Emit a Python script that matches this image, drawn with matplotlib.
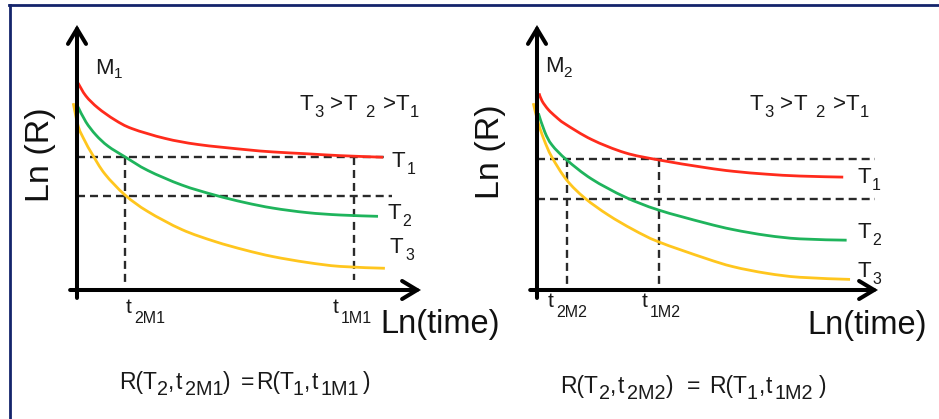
import matplotlib

matplotlib.use("Agg")
import matplotlib.pyplot as plt
from matplotlib.lines import Line2D
from matplotlib.patches import ArrowStyle, FancyArrowPatch, PathPatch
from matplotlib.path import Path

plt.rcParams["font.family"] = ["Liberation Sans", "DejaVu Sans"]

W, H = 939, 419

# Ln(R) vs Ln(time) isotherms for material M1 (x: Ln(time), y: Ln(R), arbitrary units)
m1_t1_x = [0.03, 0.26, 0.61, 1.10, 1.60, 2.56, 3.52, 4.88, 5.70, 6.69, 7.65, 8.90]
m1_t1_y = [7.81, 7.32, 6.87, 6.42, 6.09, 5.72, 5.49, 5.30, 5.21, 5.14, 5.07, 5.01]
m1_t2_x = [0.03, 0.26, 0.55, 0.90, 1.40, 2.06, 3.05, 4.01, 4.88, 5.70, 6.69, 7.65, 8.75]
m1_t2_y = [6.91, 6.34, 5.85, 5.43, 5.02, 4.51, 3.96, 3.58, 3.30, 3.09, 2.92, 2.83, 2.78]
m1_t3_x = [-0.11, 0.04, 0.23, 0.44, 0.81, 1.40, 2.06, 3.05, 4.01, 4.88, 5.70,
           6.69, 7.65, 8.95]
m1_t3_y = [7.05, 6.16, 5.62, 5.13, 4.38, 3.58, 2.96, 2.28, 1.83, 1.51, 1.26,
           1.04, 0.89, 0.82]
m1_levels = [5.03, 3.55]
m1_times = [1.40, 8.05]

# material M2
m2_t1_x = [0.06, 0.15, 0.33, 0.56, 0.82, 1.60, 2.58, 3.56, 4.93, 5.75, 6.74,
           7.71, 8.98]
m2_t1_y = [7.42, 7.13, 6.81, 6.53, 6.27, 5.68, 5.18, 4.91, 4.62, 4.48, 4.37,
           4.30, 4.26]
m2_t2_x = [0.04, 0.23, 0.44, 0.87, 1.60, 2.58, 3.56, 4.93, 5.75, 6.74, 7.71, 9.08]
m2_t2_y = [6.67, 5.96, 5.47, 4.91, 4.19, 3.51, 3.02, 2.53, 2.28, 2.06, 1.93, 1.88]
m2_t3_x = [-0.11, 0.04, 0.21, 0.43, 0.87, 1.41, 2.09, 2.82, 3.56, 4.93, 5.75,
           6.74, 7.71, 9.18]
m2_t3_y = [7.05, 6.29, 5.66, 5.03, 4.15, 3.46, 2.83, 2.28, 1.82, 1.20, 0.88,
           0.63, 0.48, 0.40]
m2_levels = [4.94, 3.42]
m2_times = [0.87, 3.58]

RED = "#ff2b1c"
GREEN = "#1fb45c"
YELLOW = "#ffc61e"
DASH = "#2a2a2a"
INK = "#1a1a1a"
FRAME = "#14246b"

fig = plt.figure(figsize=(W / 100, H / 100), dpi=100)
fig.patch.set_facecolor("white")


def fx(x):
    return x / W


def fy(y):
    return 1 - y / H


def put(x, y, s, size, color=INK, **kw):
    return fig.text(fx(x), fy(y), s, fontsize=size, color=color,
                    ha="left", va="baseline", **kw)


def rich(pieces, y, size, sub_size, drop):
    # pieces: (x, text, is_subscript)
    for x, s, sub in pieces:
        if sub:
            put(x, y + drop, s, sub_size)
        else:
            put(x, y, s, size)


def smooth_path(xs, ys):
    # cubic Bezier segments through every sample (Catmull-Rom tangents)
    pts = list(zip(xs, ys))
    verts = [pts[0]]
    codes = [Path.MOVETO]
    n = len(pts)
    for i in range(n - 1):
        p0 = pts[max(i - 1, 0)]
        p1 = pts[i]
        p2 = pts[i + 1]
        p3 = pts[min(i + 2, n - 1)]
        c1 = (p1[0] + (p2[0] - p0[0]) / 6, p1[1] + (p2[1] - p0[1]) / 6)
        c2 = (p2[0] - (p3[0] - p1[0]) / 6, p2[1] - (p3[1] - p1[1]) / 6)
        verts += [c1, c2, p2]
        codes += [Path.CURVE4] * 3
    return Path(verts, codes)


def panel(left, right, curves, levels, times, h_end, v_end):
    ax = fig.add_axes([fx(left), fy(290), (right - left) / W, (290 - 25) / H])
    ax.set_xlim(0, 10)
    ax.set_ylim(0, 10)
    ax.axis("off")
    style = ArrowStyle("->", head_length=10.8, head_width=6.5)
    for (x0, y0, x1, y1) in [(-0.2, 0, 10, 0), (0, -0.3, 0, 10)]:
        ax.add_patch(FancyArrowPatch((x0, y0), (x1, y1), arrowstyle=style,
                                     mutation_scale=1, lw=2.9, color="black",
                                     shrinkA=0, shrinkB=0, clip_on=False,
                                     joinstyle="miter", zorder=5))
    for (xs, ys), color in zip(curves, [RED, GREEN, YELLOW]):
        ax.add_patch(PathPatch(smooth_path(xs, ys), facecolor="none",
                               edgecolor=color, lw=2.0, clip_on=False,
                               capstyle="butt", zorder=3))
    for level, end in zip(levels, h_end):
        ax.plot([0, end], [level, level], color=DASH, lw=1.7,
                dashes=(3.4, 2.1), clip_on=False, zorder=2)
    for t, low in zip(times, v_end):
        ax.plot([t, t], [levels[0], low], color=DASH, lw=1.7,
                dashes=(3.4, 2.1), clip_on=False, zorder=2)
    return ax


panel(77, 421,
      [(m1_t1_x, m1_t1_y), (m1_t2_x, m1_t2_y), (m1_t3_x, m1_t3_y)],
      m1_levels, m1_times, [9.0, 9.15], [0.31, 0.38])
panel(537, 878,
      [(m2_t1_x, m2_t1_y), (m2_t2_x, m2_t2_y), (m2_t3_x, m2_t3_y)],
      m2_levels, m2_times, [9.91, 9.91], [0.08, 0.0])

# axis titles
for cx, cy in [(40, 155), (491, 152)]:
    fig.text(fx(cx), fy(cy), "Ln (R)", fontsize=24.5, color="#111111",
             rotation=90, ha="center", va="center")
put(380, 333, "Ln(time)", 23.5, color="#111111")
put(807, 334, "Ln(time)", 23.5, color="#111111")

# material labels
rich([(95, "M", False), (114, "1", True)], 74, 16, 11, 4)
rich([(545, "M", False), (563, "2", True)], 72, 16, 11, 5)

# temperature ordering
for x0 in (300, 750):
    rich([(x0, "T", False), (x0 + 14, "3", True), (x0 + 30, ">", False),
          (x0 + 43, "T", False), (x0 + 65, "2", True), (x0 + 83, ">", False),
          (x0 + 95, "T", False), (x0 + 110, "1", True)], 110, 16, 12, 7)

# curve labels
for x0, base, n in [(392, 167, "1"), (387, 219, "2"), (390, 253, "3"),
                    (857, 183, "1"), (857, 238, "2"), (857, 277, "3")]:
    rich([(x0, "T", False), (x0 + 15, n, True)], base, 16, 11.5, 7)

# time markers on the Ln(time) axes
for x0, base, sub in [(126, 313, "2M1"), (333, 313, "1M1"),
                      (548, 307, "2M2"), (642, 307, "1M2")]:
    rich([(x0, "t", False), (x0 + 8, sub, True)], base, 15, 11.5, 10)

# equal-resistance conditions
rich([(119, "R(T", False), (157, "2", True), (168, ",", False),
      (176, "t", False), (185, "2M1", True), (223, ")", False),
      (241, "=", False), (256, "R(T", False), (293, "1", True),
      (304, ",", False), (312, "t", False), (320, "1M1", True),
      (363, ")", False)], 388.7, 16.5, 14.2, 6.3)
rich([(560, "R(T", False), (599, "2", True), (610, ",", False),
      (618, "t", False), (627, "2M2", True), (666, ")", False),
      (687, "=", False), (709, "R(T", False), (747, "1", True),
      (759, ",", False), (766, "t", False), (774, "1M2", True),
      (819, ")", False)], 392.7, 16.5, 14.2, 6.3)

# frame edges on top and left
fig.add_artist(Line2D([fx(9), 1], [fy(5.5), fy(5.5)], color=FRAME, lw=2.0))
fig.add_artist(Line2D([fx(10), fx(10)], [fy(5), 0], color=FRAME, lw=2.0))

fig.savefig("out.png", dpi=100, facecolor="white")
